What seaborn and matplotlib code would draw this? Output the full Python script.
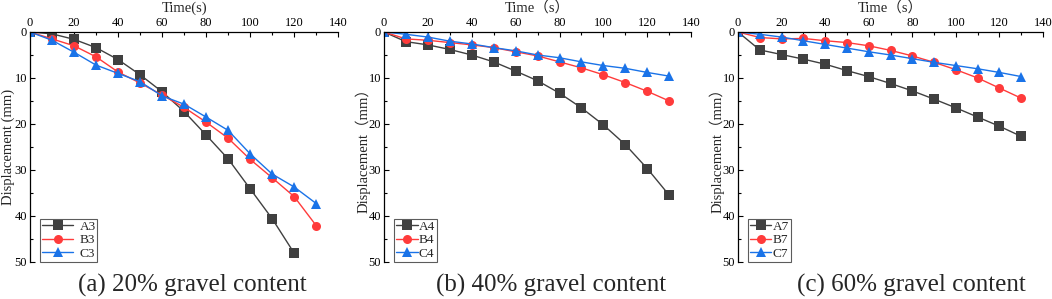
import numpy as np
import pandas as pd
import matplotlib
matplotlib.use('Agg')
import matplotlib.pyplot as plt
from matplotlib.ticker import MultipleLocator
import seaborn as sns

sns.set_style('ticks')
plt.rcParams['font.family'] = ['Liberation Serif', 'Noto Sans CJK SC', 'DejaVu Sans']

time_s = [0, 10, 20, 30, 40, 50, 60, 70, 80, 90, 100, 110, 120, 130]

# panel (a) 20% gravel
a3 = [0, 0.4, 1.6, 3.4, 6.0, 9.3, 13.0, 17.3, 22.4, 27.6, 34.1, 40.6, 48.1]
b3 = [0, 1.5, 3.0, 5.4, 8.7, 11.1, 13.7, 16.4, 19.6, 23.1, 27.7, 31.7, 35.8, 42.1]
c3 = [0, 1.8, 4.4, 7.2, 9.0, 10.8, 13.9, 15.7, 18.5, 21.4, 26.5, 30.9, 33.7, 37.3]

# panel (b) 40% gravel
a4 = [0, 2.1, 2.8, 3.8, 5.0, 6.5, 8.5, 10.6, 13.3, 16.5, 20.2, 24.5, 29.7, 35.5]
b4 = [0, 1.5, 1.8, 2.3, 2.8, 3.4, 4.3, 5.2, 6.5, 7.8, 9.3, 11.0, 12.9, 15.0]
c4 = [0, 0.5, 1.1, 2.0, 2.6, 3.4, 4.1, 5.0, 5.6, 6.5, 7.3, 7.9, 8.8, 9.6]

# panel (c) 60% gravel
a7 = [0, 3.9, 4.9, 5.9, 7.0, 8.4, 9.7, 11.2, 12.8, 14.6, 16.5, 18.5, 20.5, 22.7]
b7 = [0, 1.2, 1.5, 1.4, 1.9, 2.3, 3.0, 4.0, 5.2, 6.6, 8.2, 10.0, 12.2, 14.4]
c7 = [0, 0.5, 1.1, 1.9, 2.7, 3.5, 4.3, 5.0, 5.8, 6.6, 7.3, 8.0, 8.8, 9.7]

panels = [
    {'series': [('A3', a3), ('B3', b3), ('C3', c3)], 'xlabel': 'Time(s)',
     'ylabel': 'Displacement (mm)', 'caption': '(a) 20% gravel content'},
    {'series': [('A4', a4), ('B4', b4), ('C4', c4)], 'xlabel': 'Time\uff08s\uff09',
     'ylabel': 'Displacement\uff08mm\uff09', 'caption': '(b) 40% gravel content'},
    {'series': [('A7', a7), ('B7', b7), ('C7', c7)], 'xlabel': 'Time\uff08s\uff09',
     'ylabel': 'Displacement\uff08mm\uff09', 'caption': '(c) 60% gravel content'},
]

colors = ['#404040', '#ff3b3b', '#1a73e8']
markers = ['s', 'o', '^']

fig = plt.figure(figsize=(10.52, 2.99), dpi=100)
lefts = [0.0285, 0.365, 0.7015]
widths = [0.293, 0.292, 0.290]
caption_x = [0.183, 0.524, 0.866]

for i, p in enumerate(panels):
    ax = fig.add_axes([lefts[i], 0.124, widths[i], 0.769])
    for j, (name, vals) in enumerate(p['series']):
        df = pd.DataFrame({'t': time_s[:len(vals)], 'd': vals})
        sns.lineplot(data=df, x='t', y='d', ax=ax, color=colors[j], marker=markers[j],
                     markersize=6.5, markeredgewidth=0, linewidth=1.0, label=name)
    ax.set_xlim(0, 140)
    ax.set_ylim(50, 0)
    ax.xaxis.set_major_locator(MultipleLocator(20))
    ax.xaxis.set_minor_locator(MultipleLocator(10))
    ax.yaxis.set_major_locator(MultipleLocator(10))
    ax.yaxis.set_minor_locator(MultipleLocator(5))
    ax.xaxis.tick_top()
    ax.xaxis.set_label_position('top')
    ax.tick_params(which='both', direction='in', top=True, bottom=False, labelsize=9,
                   colors='black', pad=2)
    ax.tick_params(which='major', length=3.5, width=0.8)
    ax.tick_params(which='minor', length=2, width=0.8)
    for s in ['right', 'bottom']:
        ax.spines[s].set_visible(False)
    for s in ['top', 'left']:
        ax.spines[s].set_linewidth(0.9)
        ax.spines[s].set_color('black')
    ax.set_xlabel(p['xlabel'], fontsize=10.5, va='center')
    ax.xaxis.set_label_coords(0.5, 1.105)
    ax.set_ylabel(p['ylabel'], fontsize=10.5, va='center')
    ax.yaxis.set_label_coords(-0.069, 0.5)
    if i == 0:
        hl, tp = 2.3, 0.5
    else:
        hl, tp = 1.6, 0.1
    leg = ax.legend(loc='lower left', bbox_to_anchor=(0.034, 0.0), fontsize=9.5,
                    frameon=True, fancybox=False, edgecolor='#333333',
                    handlelength=hl, handletextpad=tp, borderpad=0.15,
                    labelspacing=0.1, borderaxespad=0.0)
    leg.get_frame().set_linewidth(0.8)
    fig.text(caption_x[i], 0.045, p['caption'], ha='center', va='center', fontsize=18)

fig.savefig('out.png', dpi=100)
